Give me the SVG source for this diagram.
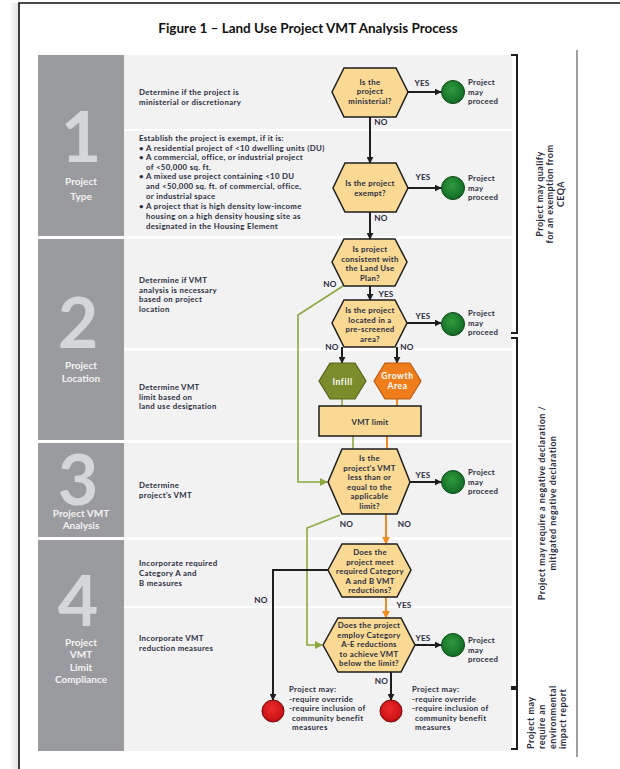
<svg xmlns="http://www.w3.org/2000/svg" width="620" height="769" viewBox="0 0 620 769">
<defs>
<style>
text{font-family:Lato,"Liberation Sans",sans-serif;font-weight:bold;fill:#2b2d3e}
.t{font-size:7.8px;letter-spacing:0.35px}
.p{font-size:7.8px;letter-spacing:0.3px}
.n{font-size:7.8px;letter-spacing:0.3px;text-anchor:middle}
.lb{font-size:8.2px;letter-spacing:0.2px;text-anchor:middle}
.g{font-size:10px;text-anchor:middle;fill:#f2f2f2}
.big{font-size:70px;text-anchor:middle;fill:#d5d6d8;font-weight:bold}
.rot{font-size:9px;letter-spacing:0.45px}
.col{fill:#9a9b9e}
.pan{fill:#f2f2f2}
.hex{fill:#f9d994;stroke:#1e1e1e;stroke-width:1.5}
.ok{fill:url(#gg);stroke:#0c4a19;stroke-width:1}
.bad{fill:url(#rg);stroke:#6e0a0a;stroke-width:1}
.cb{fill:none;stroke:#1e1e1e;stroke-width:2}
.co{fill:none;stroke:#f08a24;stroke-width:2}
.cg{fill:none;stroke:#8ca83e;stroke-width:1.6}
.br{fill:none;stroke:#1e1e1e;stroke-width:2}
.w{font-size:8.5px;letter-spacing:0.6px;text-anchor:middle;fill:#ffffff}
</style>
<radialGradient id="gg" cx="0.45" cy="0.4" r="0.6"><stop offset="0" stop-color="#2f9a3d"/><stop offset="1" stop-color="#136b26"/></radialGradient>
<radialGradient id="rg" cx="0.45" cy="0.4" r="0.6"><stop offset="0" stop-color="#ee2a2a"/><stop offset="1" stop-color="#c40f14"/></radialGradient>
<linearGradient id="sh" x1="0" x2="1" y1="0" y2="0"><stop offset="0" stop-color="#ffffff"/><stop offset="1" stop-color="#e2e2e2"/></linearGradient>
<marker id="ab" viewBox="0 0 10 10" refX="9" refY="5" markerWidth="7" markerHeight="7" markerUnits="userSpaceOnUse" orient="auto"><path d="M0,0 L10,5 L0,10 z" fill="#1e1e1e"/></marker>
<marker id="ao" viewBox="0 0 10 10" refX="9" refY="5" markerWidth="8" markerHeight="8" markerUnits="userSpaceOnUse" orient="auto"><path d="M0,0 L10,5 L0,10 z" fill="#f08a24"/></marker>
<marker id="ag" viewBox="0 0 10 10" refX="9" refY="5" markerWidth="8" markerHeight="8" markerUnits="userSpaceOnUse" orient="auto"><path d="M0,0 L10,5 L0,10 z" fill="#8ca83e"/></marker>
</defs>
<rect width="620" height="769" fill="#ffffff"/>
<rect x="9" y="3" width="10" height="766" fill="url(#sh)"/>
<path d="M19,769 V3 H620" fill="none" stroke="#111" stroke-width="1.6"/>
<text x="308" y="33" style="font-size:13.5px;text-anchor:middle;fill:#111">Figure 1 – Land Use Project VMT Analysis Process</text>

<g id="background">
<rect class="col" x="38" y="55" width="86" height="181"/>
<rect class="col" x="38" y="239" width="86" height="201"/>
<rect class="col" x="38" y="443" width="86" height="94"/>
<rect class="col" x="38" y="540" width="86" height="211"/>
<rect class="pan" x="124" y="55" width="388" height="74"/>
<rect class="pan" x="124" y="131" width="388" height="105"/>
<rect class="pan" x="124" y="239" width="388" height="109"/>
<rect class="pan" x="124" y="351" width="388" height="89"/>
<rect class="pan" x="124" y="443" width="388" height="94"/>
<rect class="pan" x="124" y="540" width="388" height="66"/>
<rect class="pan" x="124" y="608" width="388" height="143"/>
<line x1="577" y1="50" x2="577" y2="757" stroke="#808080" stroke-width="1.5"/>
</g>

<g id="section1">
<text class="big" x="81" y="162">1</text>
<text class="g" x="81" y="185">Project</text>
<text class="g" x="81" y="200">Type</text>
<text class="t" x="139" y="95">Determine if the project is</text>
<text class="t" x="139" y="104.5">ministerial or discretionary</text>
<text class="t" x="139" y="141">Establish the project is exempt, if it is:</text>
<text class="t" x="139" y="150.6">•</text><text class="t" x="146" y="150.6">A residential project of &lt;10 dwelling units (DU)</text>
<text class="t" x="139" y="160.2">•</text><text class="t" x="146" y="160.2">A commercial, office, or industrial project</text>
<text class="t" x="146" y="169.8">of &lt;50,000 sq. ft.</text>
<text class="t" x="139" y="179.4">•</text><text class="t" x="146" y="179.4">A mixed use project containing &lt;10 DU</text>
<text class="t" x="146" y="189">and &lt;50,000 sq. ft. of commercial, office,</text>
<text class="t" x="146" y="198.6">or industrial space</text>
<text class="t" x="139" y="208.6">•</text><text class="t" x="146" y="208.6">A project that is high density low-income</text>
<text class="t" x="146" y="218.6">housing on a high density housing site as</text>
<text class="t" x="146" y="228.6">designated in the Housing Element</text>
</g>

<g id="section2">
<text class="big" x="78" y="348">2</text>
<text class="g" x="81" y="369">Project</text>
<text class="g" x="81" y="381.5">Location</text>
<text class="t" x="139" y="283">Determine if VMT</text>
<text class="t" x="139" y="292.5">analysis is necessary</text>
<text class="t" x="139" y="302">based on project</text>
<text class="t" x="139" y="311.5">location</text>
<text class="t" x="139" y="390">Determine VMT</text>
<text class="t" x="139" y="399.5">limit based on</text>
<text class="t" x="139" y="409">land use designation</text>
</g>

<g id="section3">
<text class="big" x="78" y="505">3</text>
<text class="g" x="81" y="516.5">Project VMT</text>
<text class="g" x="81" y="528.5">Analysis</text>
<text class="t" x="139" y="488">Determine</text>
<text class="t" x="139" y="498">project's VMT</text>
</g>

<g id="section4">
<text class="big" x="78" y="626">4</text>
<text class="g" x="81" y="646">Project</text>
<text class="g" x="81" y="658">VMT</text>
<text class="g" x="81" y="670.5">Limit</text>
<text class="g" x="81" y="683">Compliance</text>
<text class="t" x="139" y="566">Incorporate required</text>
<text class="t" x="139" y="576">Category A and</text>
<text class="t" x="139" y="585.8">B measures</text>
<text class="t" x="139" y="641">Incorporate VMT</text>
<text class="t" x="139" y="651">reduction measures</text>
</g>

<g id="connectors">
<path class="cb" d="M408,92 H441" marker-end="url(#ab)"/>
<path class="cb" d="M370,117 V163" marker-end="url(#ab)"/>
<path class="cb" d="M408,188 H441" marker-end="url(#ab)"/>
<path class="cb" d="M370,212 V239" marker-end="url(#ab)"/>
<path class="cb" d="M370,286 V300" marker-end="url(#ab)"/>
<path class="cb" d="M407,323 H441" marker-end="url(#ab)"/>
<path class="cb" d="M342,347 V363" marker-end="url(#ab)"/>
<path class="cb" d="M397,347 V363" marker-end="url(#ab)"/>
<path class="cg" d="M342,399 V406"/>
<path class="co" d="M397,399 V406"/>
<path class="cg" d="M353,436 V449"/>
<path class="co" d="M387,436 V449"/>
<path class="cg" d="M343,286 L298,315 V482 H327" marker-end="url(#ag)"/>
<path class="cb" d="M410,482 H441" marker-end="url(#ab)"/>
<path class="co" d="M386,514 V544" marker-end="url(#ao)"/>
<path class="cg" d="M340,515 L307,528 V645 H322" marker-end="url(#ag)"/>
<path class="cb" d="M328,570 H273 V700" marker-end="url(#ab)"/>
<path class="co" d="M386,597 V618" marker-end="url(#ao)"/>
<path class="cb" d="M415,645 H441" marker-end="url(#ab)"/>
<path class="cb" d="M391,672 V700" marker-end="url(#ab)"/>
<text class="lb" x="422" y="86">YES</text>
<text class="lb" x="381" y="125">NO</text>
<text class="lb" x="423" y="180">YES</text>
<text class="lb" x="381" y="221">NO</text>
<text class="lb" x="330" y="287">NO</text>
<text class="lb" x="386" y="296.5">YES</text>
<text class="lb" x="423" y="318.5">YES</text>
<text class="lb" x="332" y="350">NO</text>
<text class="lb" x="407" y="350">NO</text>
<text class="lb" x="423" y="478">YES</text>
<text class="lb" x="346.5" y="526.5">NO</text>
<text class="lb" x="404.5" y="526.5">NO</text>
<text class="lb" x="261" y="602.5">NO</text>
<text class="lb" x="404" y="608">YES</text>
<text class="lb" x="423" y="640.5">YES</text>
<text class="lb" x="381.5" y="684">NO</text>
</g>

<g id="q-ministerial">
<polygon class="hex" points="332,92 344,68 396,68 408,92 396,117 344,117"/>
<text class="n" x="370" y="84.5">Is the</text>
<text class="n" x="370" y="94">project</text>
<text class="n" x="370" y="103.5">ministerial?</text>
</g>
<g id="q-exempt">
<polygon class="hex" points="333,188 345,163 396,163 408,188 396,212 345,212"/>
<text class="n" x="370" y="186">Is the project</text>
<text class="n" x="370" y="195.5">exempt?</text>
</g>
<g id="q-landuse">
<polygon class="hex" points="332,262 344,239 395,239 407,262 395,286 344,286"/>
<text class="n" x="370" y="252">Is project</text>
<text class="n" x="370" y="261.5">consistent with</text>
<text class="n" x="370" y="271">the Land Use</text>
<text class="n" x="370" y="280.5">Plan?</text>
</g>
<g id="q-prescreened">
<polygon class="hex" points="332,323 344,300 395,300 407,323 395,347 344,347"/>
<text class="n" x="370" y="313">Is the project</text>
<text class="n" x="370" y="322.5">located in a</text>
<text class="n" x="370" y="332">pre-screened</text>
<text class="n" x="370" y="341.5">area?</text>
</g>
<g id="infill">
<polygon points="319,381 330,363 355,363 366,381 355,399 330,399" fill="#7b8d2b" stroke="#56641c" stroke-width="1.2"/>
<text class="w" x="342.5" y="384.5">Infill</text>
</g>
<g id="growth-area">
<polygon points="374,381 385,363 410,363 421,381 410,399 385,399" fill="#ef7d1c" stroke="#b85d12" stroke-width="1.2"/>
<text class="w" x="397.5" y="379">Growth</text>
<text class="w" x="397.5" y="389.3">Area</text>
</g>
<g id="vmt-limit">
<rect x="319" y="406" width="102" height="30" fill="#f9d994" stroke="#1e1e1e" stroke-width="1.5"/>
<text class="n" x="370" y="424.5">VMT limit</text>
</g>
<g id="q-vmt">
<polygon class="hex" points="328,482 342,449 397,449 410,482 397,514 342,514"/>
<text class="n" x="369.5" y="461">Is the</text>
<text class="n" x="369.5" y="470.5">project's VMT</text>
<text class="n" x="369.5" y="480">less than or</text>
<text class="n" x="369.5" y="489.5">equal to the</text>
<text class="n" x="369.5" y="499">applicable</text>
<text class="n" x="369.5" y="508.5">limit?</text>
</g>
<g id="q-catAB">
<polygon class="hex" points="328,570 342,544 397,544 411,570 397,597 342,597"/>
<text class="n" x="370" y="555">Does the</text>
<text class="n" x="370" y="564.5">project meet</text>
<text class="n" x="370" y="574">required Category</text>
<text class="n" x="370" y="583.5">A and B  VMT</text>
<text class="n" x="370" y="593">reductions?</text>
</g>
<g id="q-catAE">
<polygon class="hex" points="323,645 338,618 401,618 415,645 401,672 338,672"/>
<text class="n" x="369" y="628">Does the project</text>
<text class="n" x="369" y="637.5">employ Category</text>
<text class="n" x="369" y="647">A-E  reductions</text>
<text class="n" x="369" y="656.5">to achieve VMT</text>
<text class="n" x="369" y="666">below the limit?</text>
</g>

<g id="proceed-1"><circle class="ok" cx="453" cy="92" r="11.5"/>
<text class="p" x="468" y="85">Project</text><text class="p" x="468" y="94.5">may</text><text class="p" x="468" y="104">proceed</text></g>
<g id="proceed-2"><circle class="ok" cx="453" cy="188" r="11.5"/>
<text class="p" x="468" y="181">Project</text><text class="p" x="468" y="190.5">may</text><text class="p" x="468" y="200">proceed</text></g>
<g id="proceed-3"><circle class="ok" cx="453" cy="324" r="11.5"/>
<text class="p" x="468" y="316">Project</text><text class="p" x="468" y="325.5">may</text><text class="p" x="468" y="335">proceed</text></g>
<g id="proceed-4"><circle class="ok" cx="453" cy="482" r="11.5"/>
<text class="p" x="468" y="475">Project</text><text class="p" x="468" y="484.5">may</text><text class="p" x="468" y="494">proceed</text></g>
<g id="proceed-5"><circle class="ok" cx="453" cy="645" r="11.5"/>
<text class="p" x="468" y="643">Project</text><text class="p" x="468" y="652.5">may</text><text class="p" x="468" y="662">proceed</text></g>

<g id="override-left"><circle class="bad" cx="273" cy="711" r="11"/>
<text class="t" x="289" y="692">Project may:</text>
<text class="t" x="289" y="701.5">-require override</text>
<text class="t" x="289" y="711">-require inclusion of</text>
<text class="t" x="292" y="720.5">community benefit</text>
<text class="t" x="292" y="730">measures</text></g>
<g id="override-right"><circle class="bad" cx="391" cy="711" r="11"/>
<text class="t" x="412" y="692">Project may:</text>
<text class="t" x="412" y="701.5">-require override</text>
<text class="t" x="412" y="711">-require inclusion of</text>
<text class="t" x="415" y="720.5">community benefit</text>
<text class="t" x="415" y="730">measures</text></g>

<g id="bracket-exempt">
<path class="br" d="M511,55 H517 V333 H511"/>
<g transform="rotate(-90 0 0)">
<text class="rot" x="-194" y="542.5" text-anchor="middle">Project may qualify</text>
<text class="rot" x="-194" y="553.3" text-anchor="middle">for an exemption from</text>
<text class="rot" x="-194" y="564.1" text-anchor="middle">CEQA</text>
</g>
</g>
<g id="bracket-negdec">
<path class="br" d="M511,338 H517 V687 H511"/>
<g transform="rotate(-90 0 0)">
<text class="rot" x="-503" y="545" text-anchor="middle">Project may require a negative declaration /</text>
<text class="rot" x="-503" y="556" text-anchor="middle">mitigated negative declaration</text>
</g>
</g>
<g id="bracket-eir">
<path class="br" d="M511,689 H517 V749 H511"/>
<g transform="rotate(-90 0 0)">
<text class="rot" x="-749" y="534">Project may</text>
<text class="rot" x="-749" y="544.8">require an</text>
<text class="rot" x="-749" y="555.6">environmental</text>
<text class="rot" x="-749" y="566.4">impact report</text>
</g>
</g>
</svg>
